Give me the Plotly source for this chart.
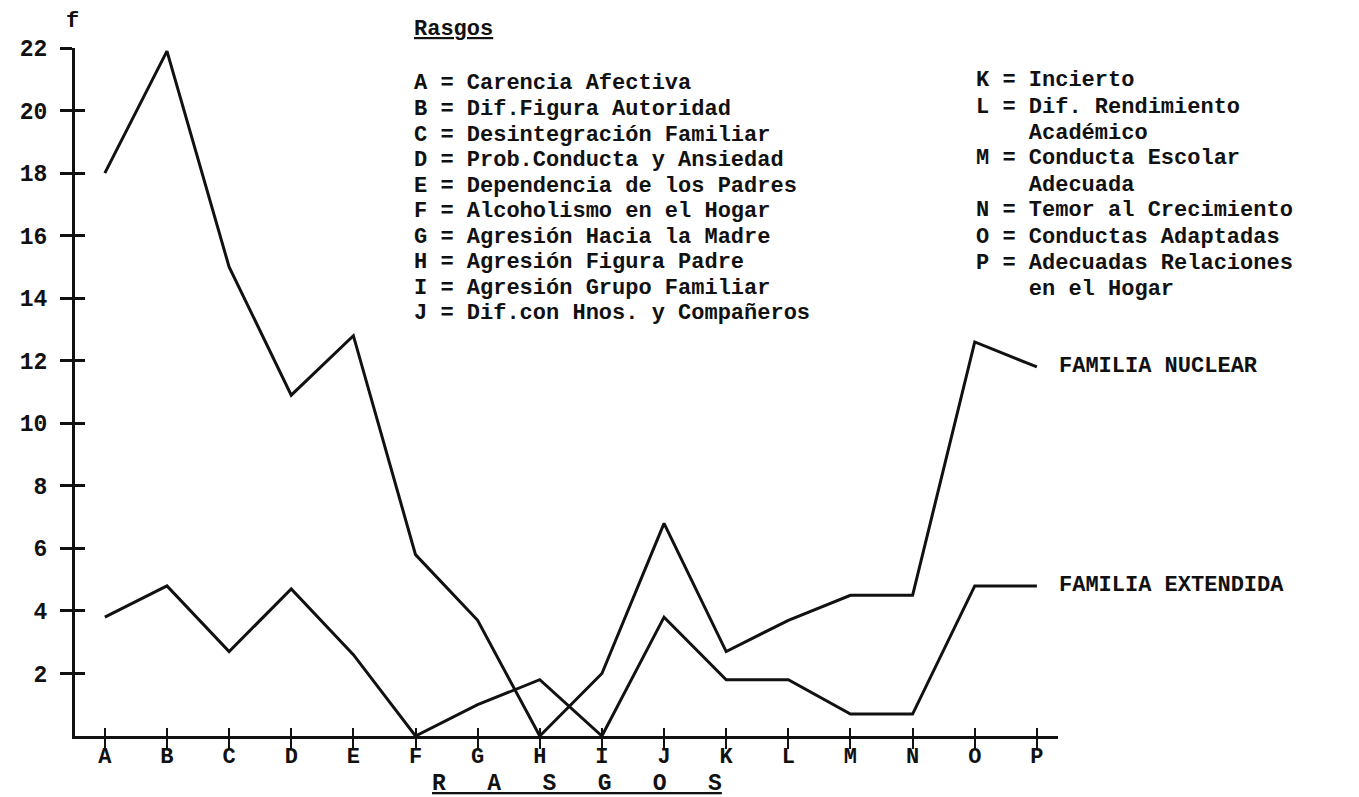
import plotly.graph_objects as go

# ---- data ----
categories = ["A", "B", "C", "D", "E", "F", "G", "H", "I", "J", "K", "L", "M", "N", "O", "P"]
nuclear = [18, 21.9, 15, 10.9, 12.8, 5.8, 3.7, 0, 2, 6.8, 2.7, 3.7, 4.5, 4.5, 12.6, 11.8]
extendida = [3.8, 4.8, 2.7, 4.7, 2.6, 0, 1, 1.8, 0, 3.8, 1.8, 1.8, 0.7, 0.7, 4.8, 4.8]
y_ticks = [2, 4, 6, 8, 10, 12, 14, 16, 18, 20, 22]
series_names = ["FAMILIA NUCLEAR", "FAMILIA EXTENDIDA"]

legend_title = "Rasgos"
legend_left = [
    "A = Carencia Afectiva",
    "B = Dif.Figura Autoridad",
    "C = Desintegración Familiar",
    "D = Prob.Conducta y Ansiedad",
    "E = Dependencia de los Padres",
    "F = Alcoholismo en el Hogar",
    "G = Agresión Hacia la Madre",
    "H = Agresión Figura Padre",
    "I = Agresión Grupo Familiar",
    "J = Dif.con Hnos. y Compañeros",
]
legend_right = [
    "K = Incierto",
    "L = Dif. Rendimiento",
    "    Académico",
    "M = Conducta Escolar",
    "    Adecuada",
    "N = Temor al Crecimiento",
    "O = Conductas Adaptadas",
    "P = Adecuadas Relaciones",
    "    en el Hogar",
]
x_title = "R   A   S   G   O   S"
y_title = "f"

# ---- layout constants ----
W, H = 1359, 797
ML, MR, MT, MB = 63, 309, 40, 69
PW, PH = W - ML - MR, H - MT - MB
FONT = "Liberation Mono, Courier New, monospace"
INK = "#111111"
KEY_SIZE = 22


def px(x):
    return (x - ML) / PW


def py(y):
    return (H - MB - y) / PH


def nb(s):
    return s.replace(" ", "\u00a0")


xi = list(range(len(categories)))

fig = go.Figure()
for vals, name in zip([nuclear, extendida], series_names):
    fig.add_trace(go.Scatter(x=xi, y=vals, mode="lines", name=name,
                             line=dict(color=INK, width=3), showlegend=False,
                             hoverinfo="skip"))
# invisible trace carrying the overlay axes (inner tick halves)
fig.add_trace(go.Scatter(x=xi, y=extendida, mode="lines", xaxis="x2", yaxis="y2",
                         line=dict(color="rgba(0,0,0,0)", width=0), showlegend=False,
                         hoverinfo="skip"))

xr = [-0.48, 15.34]
yr = [0, 22]

annotations = []
# series labels at the end of each line
for vals, name in zip([nuclear, extendida], series_names):
    annotations.append(dict(x=xi[-1], y=vals[-1], xref="x", yref="y", text=name,
                            showarrow=False, xanchor="left", yanchor="middle", xshift=20,
                            font=dict(family=FONT, size=22, color=INK, weight="bold")))

# key
annotations.append(dict(x=px(401), y=py(21), xref="paper", yref="paper",
                        text="<u>" + legend_title + "</u>", showarrow=False,
                        xanchor="left", yanchor="middle",
                        font=dict(family=FONT, size=KEY_SIZE, color=INK, weight="bold")))
for i, t in enumerate(legend_left):
    annotations.append(dict(x=px(401), y=py(76 + i * 25.5), xref="paper", yref="paper",
                            text=nb(t), showarrow=False, xanchor="left", yanchor="middle",
                            font=dict(family=FONT, size=KEY_SIZE, color=INK, weight="bold")))
for i, t in enumerate(legend_right):
    annotations.append(dict(x=px(966), y=py(73 + i * 26.0), xref="paper", yref="paper",
                            text=nb(t), showarrow=False, xanchor="left", yanchor="middle",
                            font=dict(family=FONT, size=KEY_SIZE, color=INK, weight="bold")))

# axis titles
annotations.append(dict(x=px(567), y=py(776), xref="paper", yref="paper",
                        text="<u>" + nb(x_title) + "</u>", showarrow=False,
                        xanchor="center", yanchor="middle",
                        font=dict(family=FONT, size=23, color=INK, weight="bold")))
annotations.append(dict(x=px(60), y=py(14), xref="paper", yref="paper",
                        text=y_title, showarrow=False, xanchor="center", yanchor="middle",
                        font=dict(family=FONT, size=22, color=INK, weight="bold")))

tickfont = dict(family=FONT, size=22, color=INK, weight="bold")

fig.update_layout(
    width=W, height=H,
    margin=dict(l=ML, r=MR, t=MT, b=MB, pad=0),
    paper_bgcolor="white", plot_bgcolor="white",
    xaxis=dict(range=xr, tickmode="array", tickvals=xi, ticktext=categories,
               showgrid=False, zeroline=False, showline=True, linecolor=INK, linewidth=3,
               ticks="outside", ticklen=10, tickwidth=2, tickcolor=INK,
               ticklabelstandoff=-12, tickfont=tickfont, fixedrange=True),
    yaxis=dict(range=yr, tickmode="array", tickvals=y_ticks,
               ticktext=[str(v) for v in y_ticks],
               showgrid=False, zeroline=False, showline=True, linecolor=INK, linewidth=3,
               ticks="outside", ticklen=12, tickwidth=3, tickcolor=INK,
               ticklabelstandoff=8, tickfont=dict(family=FONT, size=23, color=INK, weight="bold"),
               fixedrange=True),
    xaxis2=dict(overlaying="x", matches="x", range=xr, anchor="y2", tickmode="array",
                tickvals=xi, showticklabels=False, showgrid=False, zeroline=False,
                showline=False, ticks="inside", ticklen=8, tickwidth=2, tickcolor=INK),
    yaxis2=dict(overlaying="y", matches="y", range=yr, anchor="x2", tickmode="array",
                tickvals=y_ticks, showticklabels=False, showgrid=False, zeroline=False,
                showline=False, ticks="inside", ticklen=10, tickwidth=3, tickcolor=INK),
    annotations=annotations,
)

fig.write_html("out.html")
